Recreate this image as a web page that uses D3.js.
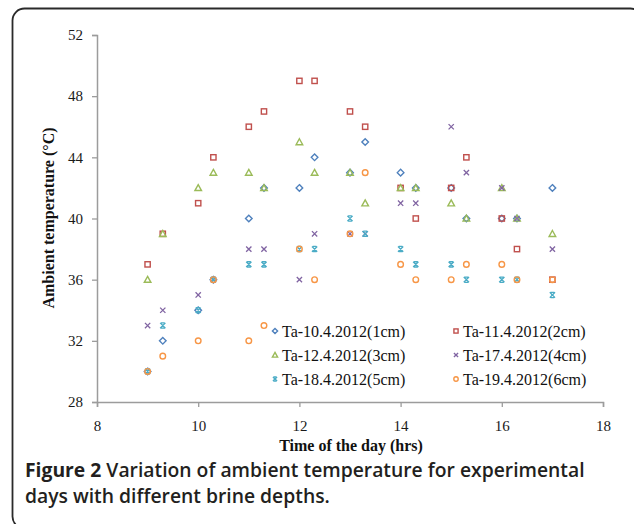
<!DOCTYPE html>
<html><head><meta charset="utf-8">
<script src="https://cdn.jsdelivr.net/npm/d3@7"></script>
<style>html,body{margin:0;padding:0;background:#fff;}svg{display:block;}</style>
</head><body>
<svg id="chart" width="634" height="524"></svg>
<script>
const times = [9, 9.3, 10, 10.3, 11, 11.3, 12, 12.3, 13, 13.3, 14, 14.3, 15, 15.3, 16, 16.3, 17];
const ta10 = [30, 32, 34, 36, 40, 42, 42, 44, 43, 45, 43, 42, 42, 40, 40, 40, 42];
const ta11 = [37, 39, 41, 44, 46, 47, 49, 49, 47, 46, 42, 40, 42, 44, 40, 38, 36];
const ta12 = [36, 39, 42, 43, 43, 42, 45, 43, 43, 41, 42, 42, 41, 40, 42, 40, 39];
const ta17 = [33, 34, 35, 36, 38, 38, 36, 39, 39, 39, 41, 41, 46, 43, 42, 40, 38];
const ta18 = [30, 33, 34, 36, 37, 37, 38, 38, 40, 39, 38, 37, 37, 36, 36, 36, 35];
const ta19 = [30, 31, 32, 36, 32, 33, 38, 36, 39, 43, 37, 36, 36, 37, 37, 36, 36];
const seriesNames = ["Ta-10.4.2012(1cm)", "Ta-11.4.2012(2cm)", "Ta-12.4.2012(3cm)", "Ta-17.4.2012(4cm)", "Ta-18.4.2012(5cm)", "Ta-19.4.2012(6cm)"];
const xTicks = [8, 10, 12, 14, 16, 18];
const yTicks = [28, 32, 36, 40, 44, 48, 52];
const xTitle = "Time of the day (hrs)";
const yTitle = "Ambient temperature (°C)";
const captionBold = "Figure 2";
const captionRest1 = " Variation of ambient temperature for experimental";
const captionLine2 = "days with different brine depths.";

const seriesValues = [ta10, ta11, ta12, ta17, ta18, ta19];
const colors = ["#4F81BD", "#C0504D", "#9BBB59", "#8064A2", "#4BACC6", "#F79646"];
const shapes = ["diamond", "square", "triangle", "cross", "star", "circle"];

const svg = d3.select("#chart");
svg.append("rect").attr("x", 12.5).attr("y", 8.5).attr("width", 630).attr("height", 520)
  .attr("rx", 12).attr("ry", 12).attr("fill", "none").attr("stroke", "#2a2a2a").attr("stroke-width", 1.8);

const x = d3.scaleLinear().domain([8, 18]).range([97, 603]);
const y = d3.scaleLinear().domain([28, 52]).range([402, 35]);

const axisColor = "#9c9c9c";
const gx = svg.append("g").attr("transform", "translate(0,402)")
  .call(d3.axisBottom(x).tickValues(xTicks).tickSize(5).tickPadding(13).tickFormat(d3.format("d")));
const gy = svg.append("g").attr("transform", "translate(97,0)")
  .call(d3.axisLeft(y).tickValues(yTicks).tickSize(5).tickPadding(9).tickFormat(d3.format("d")));
[gx, gy].forEach(g => {
  g.select(".domain").attr("stroke", axisColor).attr("stroke-width", 1.5);
  g.selectAll(".tick line").attr("stroke", axisColor).attr("stroke-width", 1.3);
  g.selectAll(".tick text").attr("fill", "#1a1a1a").style("font-family", "'Liberation Serif', 'Times New Roman', serif").style("font-size", "15px");
});

svg.append("text").attr("x", 351).attr("y", 451).attr("text-anchor", "middle")
  .style("font-family", "'Liberation Serif', 'Times New Roman', serif").style("font-size", "16px").style("font-weight", "bold")
  .attr("fill", "#111").text(xTitle);
svg.append("text").attr("transform", "translate(54,218) rotate(-90)").attr("text-anchor", "middle")
  .style("font-family", "'Liberation Serif', 'Times New Roman', serif").style("font-size", "16px").style("font-weight", "bold")
  .attr("fill", "#111").text(yTitle);

function marker(g, shape, color, s) {
  const sw = 1.4;
  if (shape === "diamond") {
    g.append("path").attr("d", `M0,${-s}L${s},0L0,${s}L${-s},0Z`).attr("fill", "none").attr("stroke", color).attr("stroke-width", sw);
  } else if (shape === "square") {
    g.append("rect").attr("x", -s * 0.8).attr("y", -s * 0.8).attr("width", s * 1.6).attr("height", s * 1.6).attr("fill", "none").attr("stroke", color).attr("stroke-width", sw);
  } else if (shape === "triangle") {
    g.append("path").attr("d", `M0,${-s}L${s},${s * 0.8}L${-s},${s * 0.8}Z`).attr("fill", "none").attr("stroke", color).attr("stroke-width", sw);
  } else if (shape === "cross") {
    const c = s * 0.8;
    g.append("path").attr("d", `M${-c},${-c}L${c},${c}M${-c},${c}L${c},${-c}`).attr("fill", "none").attr("stroke", color).attr("stroke-width", 1.3);
  } else if (shape === "star") {
    const c = s * 0.8;
    g.append("path").attr("d", `M${-c},${-c}L${c},${c}M${-c},${c}L${c},${-c}M${-c * 0.7},${-c}L${c * 0.7},${-c}M${-c * 0.7},${c}L${c * 0.7},${c}`).attr("fill", "none").attr("stroke", color).attr("stroke-width", 1.3);
  } else if (shape === "circle") {
    g.append("circle").attr("r", s * 0.85).attr("fill", "none").attr("stroke", color).attr("stroke-width", sw);
  }
}

seriesValues.forEach((vals, i) => {
  const g = svg.append("g");
  vals.forEach((v, j) => {
    const m = g.append("g").attr("transform", `translate(${x(times[j])},${y(v)})`);
    marker(m, shapes[i], colors[i], 3.3);
  });
});

// legend
const legPos = [[275, 331], [456, 331], [275, 355], [456, 355], [275, 379], [456, 379]];
seriesNames.forEach((name, i) => {
  const g = svg.append("g").attr("transform", `translate(${legPos[i][0]},${legPos[i][1]})`);
  marker(g, shapes[i], colors[i], 2.6);
  g.append("text").attr("x", 7).attr("y", 5.5)
    .style("font-family", "'Liberation Serif', 'Times New Roman', serif").style("font-size", "16px")
    .attr("fill", "#111").text(name);
});

// caption
const capFont = "'Open Sans', 'Noto Sans', sans-serif";
const cap1 = svg.append("text").attr("x", 25).attr("y", 477).style("font-family", capFont).attr("fill", "#231f20");
cap1.append("tspan").style("font-weight", "bold").text(captionBold);
cap1.append("tspan").style("font-weight", "600").text(captionRest1);
const cap2 = svg.append("text").attr("x", 25).attr("y", 503).style("font-family", capFont).style("font-weight", "600").attr("fill", "#231f20").text(captionLine2);
cap1.style("font-size", "18px");
cap2.style("font-size", "18px");
const w = cap1.node().getComputedTextLength();
const fs = 18 * 560 / w;
cap1.style("font-size", fs + "px");
cap2.style("font-size", fs + "px");
</script>
</body></html>
